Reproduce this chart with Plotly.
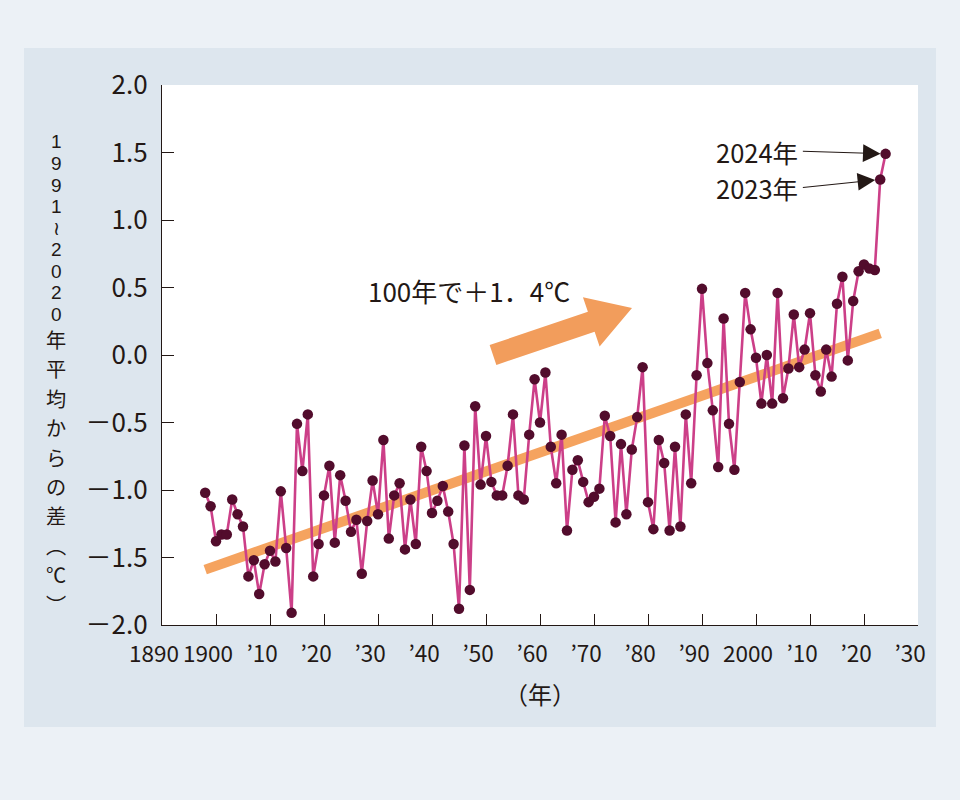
import math
import plotly.graph_objects as go

# ---------------- data ----------------
years = list(range(1898, 2025))
anomaly = [
    -1.02, -1.12, -1.38, -1.33, -1.33, -1.07, -1.18, -1.27, -1.64, -1.52,   # 1898-1907
    -1.77, -1.55, -1.45, -1.53, -1.01, -1.43, -1.91, -0.51, -0.86, -0.44,   # 1908-1917
    -1.64, -1.40, -1.04, -0.82, -1.39, -0.89, -1.08, -1.31, -1.22, -1.62,   # 1918-1927
    -1.23, -0.93, -1.18, -0.63, -1.36, -1.04, -0.95, -1.44, -1.07, -1.40,   # 1928-1937
    -0.68, -0.86, -1.17, -1.08, -0.97, -1.16, -1.40, -1.88, -0.67, -1.74,   # 1938-1947
    -0.38, -0.96, -0.60, -0.94, -1.04, -1.04, -0.82, -0.44, -1.04, -1.07,   # 1948-1957
    -0.59, -0.18, -0.50, -0.13, -0.68, -0.95, -0.59, -1.30, -0.85, -0.78,   # 1958-1967
    -0.94, -1.09, -1.05, -0.99, -0.45, -0.60, -1.24, -0.66, -1.18, -0.70,   # 1968-1977
    -0.46, -0.09, -1.09, -1.29, -0.63, -0.80, -1.30, -0.68, -1.27, -0.44,   # 1978-1987
    -0.95, -0.15, 0.49, -0.06, -0.41, -0.83, 0.27, -0.51, -0.85, -0.20,     # 1988-1997
    0.46, 0.19, -0.02, -0.36, 0.00, -0.36, 0.46, -0.32, -0.10, 0.30,        # 1998-2007
    -0.09, 0.04, 0.31, -0.15, -0.27, 0.04, -0.16, 0.38, 0.58, -0.04,        # 2008-2017
    0.40, 0.62, 0.67, 0.64, 0.63, 1.30, 1.49,                               # 2018-2024
]
trend_years = [1898, 2023]
trend_values = [-1.59, 0.16]

x_tickvals = list(range(1890, 2031, 10))
x_ticktext = ["1890", "1900", "’10", "’20", "’30", "’40", "’50", "’60", "’70",
              "’80", "’90", "2000", "’10", "’20", "’30"]
y_tickvals = [-2.0, -1.5, -1.0, -0.5, 0.0, 0.5, 1.0, 1.5, 2.0]
y_ticktext = ["－2.0", "－1.5", "－1.0", "－0.5", "0.0", "0.5", "1.0", "1.5", "2.0"]

trend_label = "100年で＋1．4℃"
y_title_top = ["1", "9", "9", "1", "≀", "2", "0", "2", "0"]
y_title_bottom = ["年", "平", "均", "か", "ら", "の", "差", "︵", "℃", "︶"]
x_title = "（年）"

# ---------------- layout geometry (pixels) ----------------
W, H = 960, 800
L, R, T, B = 162, 918, 85, 625
JP = "Noto Sans CJK JP"
LAT = "Liberation Sans, Arial, sans-serif"
INK = "#231815"


def pxx(p):
    return (p - L) / (R - L)


def pxy(p):
    return (B - p) / (B - T)


fig = go.Figure()

# trend line
fig.add_trace(go.Scatter(
    x=trend_years, y=trend_values, mode="lines",
    line=dict(color="#f5a35f", width=10), hoverinfo="skip", showlegend=False))

# anomaly series
fig.add_trace(go.Scatter(
    x=years, y=anomaly, mode="lines+markers",
    line=dict(color="#cc3f88", width=2.6),
    marker=dict(color="#520c2c", size=10.5, line=dict(width=0)),
    showlegend=False))

shapes = []
# outer panel
shapes.append(dict(type="rect", xref="paper", yref="paper", layer="below",
                   x0=pxx(24), x1=pxx(936), y0=pxy(727), y1=pxy(48),
                   fillcolor="#dde6ee", line=dict(width=0)))
# white plot area
shapes.append(dict(type="rect", xref="paper", yref="paper", layer="below",
                   x0=0, x1=1, y0=0, y1=1, fillcolor="white", line=dict(width=0)))

# big orange arrow (decoration)
tail = (493.0, 355.0)
tip = (632.0, 308.0)
dx, dy = tip[0] - tail[0], tip[1] - tail[1]
ln = math.hypot(dx, dy)
ux, uy = dx / ln, dy / ln
nx, ny = -uy, ux
sw, hw, hl = 10.5, 26.0, 43.0
neck = (tip[0] - ux * hl, tip[1] - uy * hl)
pts = [
    (tail[0] + nx * sw, tail[1] + ny * sw),
    (neck[0] + nx * sw, neck[1] + ny * sw),
    (neck[0] + nx * hw, neck[1] + ny * hw),
    tip,
    (neck[0] - nx * hw, neck[1] - ny * hw),
    (neck[0] - nx * sw, neck[1] - ny * sw),
    (tail[0] - nx * sw, tail[1] - ny * sw),
]
path = "M " + " L ".join(f"{pxx(a):.5f},{pxy(b):.5f}" for a, b in pts) + " Z"
shapes.append(dict(type="path", xref="paper", yref="paper", layer="above",
                   path=path, fillcolor="#f29d5c", line=dict(width=0)))

annotations = []
# trend label
annotations.append(dict(xref="paper", yref="paper", x=pxx(366), y=pxy(290),
                        xanchor="left", yanchor="middle", showarrow=False,
                        text=trend_label, font=dict(family=JP, size=26, color=INK)))

# year labels with arrows
for yr, ytail in [(2024, 1.51), (2023, 1.24)]:
    val = anomaly[years.index(yr)]
    annotations.append(dict(xref="x", yref="y", x=2008.2, y=ytail,
                            xanchor="right", yanchor="middle", showarrow=False,
                            text=f"{yr}年", font=dict(family=JP, size=25.5, color=INK)))
    annotations.append(dict(xref="x", yref="y", x=yr, y=val,
                            axref="x", ayref="y", ax=2008.4, ay=ytail,
                            showarrow=True, arrowhead=2, arrowsize=3.2,
                            arrowwidth=1.1, arrowcolor=INK, standoff=5, text=""))

# vertical y-axis title, one upright character per annotation
yc = 142.0
for ch in y_title_top:
    annotations.append(dict(xref="paper", yref="paper", x=pxx(56), y=pxy(yc),
                            xanchor="center", yanchor="middle", showarrow=False,
                            text=ch, font=dict(family=LAT, size=19.0, color=INK)))
    yc += 21.5
yc += 4.0
for ch in y_title_bottom:
    annotations.append(dict(xref="paper", yref="paper", x=pxx(56), y=pxy(yc),
                            xanchor="center", yanchor="middle", showarrow=False,
                            text=ch, font=dict(family=JP, size=20.2, color=INK)))
    yc += 29.4

# x-axis title
annotations.append(dict(xref="paper", yref="paper", x=pxx(540), y=pxy(693),
                        xanchor="center", yanchor="middle", showarrow=False,
                        text=x_title, font=dict(family=JP, size=24, color=INK)))

fig.update_layout(
    width=W, height=H, autosize=False,
    margin=dict(l=L, r=W - R, t=T, b=H - B, pad=0),
    paper_bgcolor="#ecf1f6", plot_bgcolor="rgba(0,0,0,0)",
    shapes=shapes, annotations=annotations, showlegend=False,
    xaxis=dict(range=[1890, 2030], tickmode="array", tickvals=x_tickvals,
               ticktext=x_ticktext, ticks="inside", ticklen=11, tickwidth=1.2,
               tickcolor=INK, showline=True, linecolor=INK, linewidth=1.4,
               showgrid=False, zeroline=False, ticklabelstandoff=9, tickangle=0,
               ticklabelshift=-8,
               tickfont=dict(family=JP, size=22.5, color=INK)),
    yaxis=dict(range=[-2, 2], tickmode="array", tickvals=y_tickvals,
               ticktext=y_ticktext, ticks="inside", ticklen=12, tickwidth=1.2,
               tickcolor=INK, showline=True, linecolor=INK, linewidth=1.4,
               showgrid=False, zeroline=False, ticklabelstandoff=8,
               tickfont=dict(family=JP, size=26, color=INK)),
)

fig.write_html("out.html", config={"displayModeBar": False})
